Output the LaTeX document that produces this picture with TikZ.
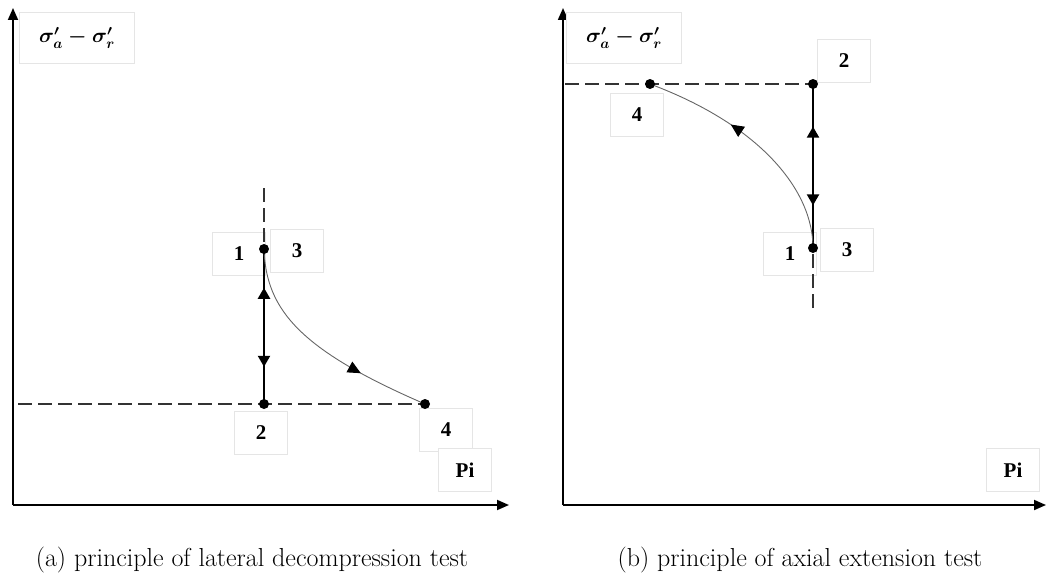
\documentclass[tikz,border=0pt]{standalone}
\usepackage{amsmath}
\usepackage{fontspec}
\newfontfamily\tnr{Liberation Serif}
\usetikzlibrary{arrows.meta,decorations.markings}
\tikzset{
  vtip/.tip={Triangle[length=11pt,width=12pt]},
  lbl/.style={draw=black!10, fill=white, font=\tnr\bfseries\fontsize{21}{24}\selectfont, inner sep=0pt, minimum width=53pt, minimum height=43pt},
  sig/.style={draw=black!10, fill=white, inner sep=0pt, minimum width=115pt, minimum height=51pt, font=\fontsize{22}{26}\selectfont},
  dot/.style={circle, fill=black, inner sep=0pt, minimum size=10pt},
  axis/.style={line width=1.8pt, -{Triangle[length=12pt,width=10pt]}},
  guide/.style={line width=1.4pt, draw=black!80, dash pattern=on 14pt off 6pt},
  curveline/.style={draw=black!60, line width=0.9pt, postaction={decorate},
    decoration={markings, mark=at position #1 with {\arrow[black]{Triangle[length=13pt,width=12pt]}}}},
  caption/.style={font=\fontsize{26}{30}\selectfont, inner sep=0pt},
}
\begin{document}
\begin{tikzpicture}[x=1pt,y=-1pt]
\useasboundingbox (0,0) rectangle (1048,578);
% ---------- left panel ----------
\node[lbl] (l1A) at (239,254) {1};
\node[lbl] (l3A) at (297,251) {3};
\node[lbl] (l2A) at (261,433) {2};
\node[lbl] (l4A) at (446,430) {4};
\node[lbl] (piA) at (465,470) {Pi};
\coordinate (oA) at (13,505);
\coordinate (yA) at (13,8);
\coordinate (xA) at (509,505);
\draw[axis] (oA) -- (yA);
\draw[axis] (oA) -- (xA);
\node[sig] (sA) at (77,38) {$\boldsymbol{\sigma'_a - \sigma'_r}$};
\coordinate (hA) at (18,404);
\coordinate (vA) at (264,188);
\coordinate (c13A) at (264,249);
\coordinate (c2A) at (264,404);
\coordinate (c4A) at (425,404);
\draw[guide] (hA) -- (c4A);
\draw[guide] (vA) -- (c13A);
\draw[line width=2.2pt, postaction={decorate}, decoration={markings,
   mark=at position 0.25 with {\arrowreversed{vtip}},
   mark=at position 0.76 with {\arrow{vtip}}}]
  (c13A) -- (c2A);
\draw[curveline=0.7] (c13A) .. controls (266,310) and (300,350) .. (c4A);
\node[dot] (p13A) at (c13A) {};
\node[dot] (p2A) at (c2A) {};
\node[dot] (p4A) at (c4A) {};
\node[caption] (capA) at (252,560) {(a) principle of lateral decompression test};
% ---------- right panel ----------
\node[lbl] (l2B) at (844,61) {2};
\node[lbl] (l4B) at (637,115) {4};
\node[lbl] (l1B) at (790,254) {1};
\node[lbl] (l3B) at (847,250) {3};
\node[lbl] (piB) at (1013,470) {Pi};
\coordinate (oB) at (563,505);
\coordinate (yB) at (563,8);
\coordinate (xB) at (1046,505);
\draw[axis] (oB) -- (yB);
\draw[axis] (oB) -- (xB);
\node[sig] (sB) at (624,38) {$\boldsymbol{\sigma'_a - \sigma'_r}$};
\coordinate (hB) at (565,84);
\coordinate (vB) at (813,308);
\coordinate (c2B) at (813,84);
\coordinate (c4B) at (650,84);
\coordinate (c13B) at (813,248);
\draw[guide] (hB) -- (c2B);
\draw[guide] (vB) -- (c13B);
\draw[line width=2.2pt, postaction={decorate}, decoration={markings,
   mark=at position 0.26 with {\arrowreversed{vtip}},
   mark=at position 0.74 with {\arrow{vtip}}}]
  (c13B) -- (c2B);
\draw[curveline=0.63] (c13B) .. controls (813,190) and (760,125) .. (c4B);
\node[dot] (p2B) at (c2B) {};
\node[dot] (p4B) at (c4B) {};
\node[dot] (p13B) at (c13B) {};
\node[caption] (capB) at (800,560) {(b) principle of axial extension test};
\end{tikzpicture}
\end{document}
